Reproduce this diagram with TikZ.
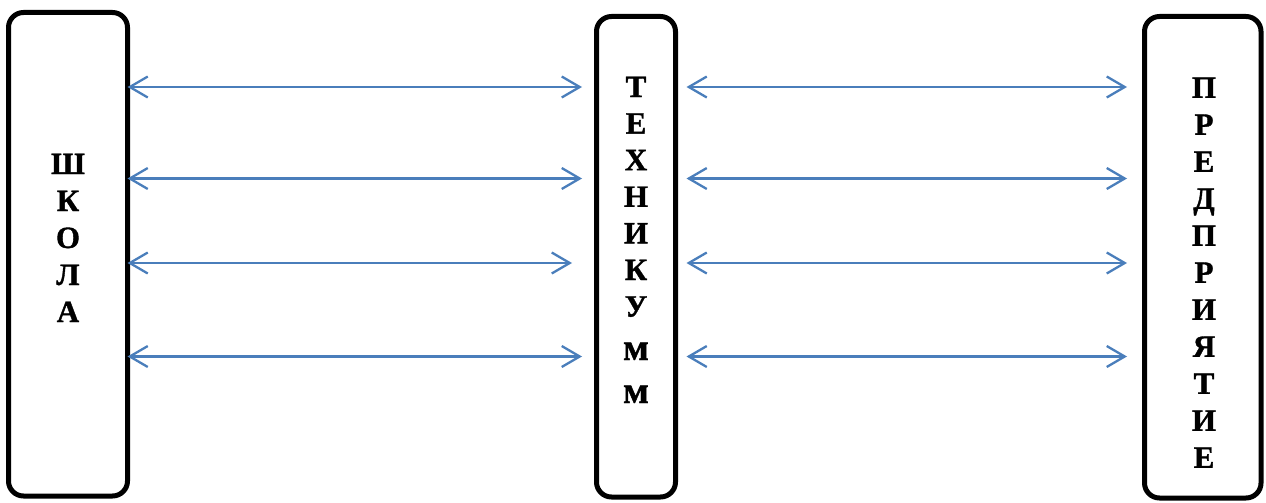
\documentclass[tikz,border=0pt]{standalone}
\usepackage{fontspec}
\setmainfont{Liberation Serif}[BoldFont={Liberation Serif Bold},BoldFeatures={FakeBold=1.2}]
\usetikzlibrary{arrows.meta,calc}
\definecolor{arrblue}{HTML}{4A7EBB}
\begin{document}
\begin{tikzpicture}[x=1pt,y=-1pt,
  box/.style={draw=black, line width=5pt, rounded corners=15pt, rectangle, inner sep=0pt, outer sep=0pt},
  col/.style={font=\fontsize{31}{37}\selectfont\bfseries, align=center, inner sep=0pt, anchor=north},
  lowm/.style={font=\fontsize{38}{38}\selectfont\bfseries, inner sep=0pt, anchor=base},
  arr/.style={draw=arrblue, line width=2.3pt, {Straight Barb[length=18pt,width=21pt]}-{Straight Barb[length=18pt,width=21pt]}}]
\useasboundingbox (0,0) rectangle (1266,503);
% boxes
\node[box, minimum width=119pt, minimum height=483.5pt] (school) at (68,254.25) {};
\node[box, minimum width=79pt, minimum height=480.5pt] (tech) at (636,256.75) {};
\node[box, minimum width=116.5pt, minimum height=481.5pt] (ent) at (1202.75,257.25) {};
% texts
\node[col] (schooltxt) at (68,153.5) {Ш\\К\\О\\Л\\А};
\node[col, font=\fontsize{31}{36.6}\selectfont\bfseries] (techtxt) at (636,76.5) {Т\\Е\\Х\\Н\\И\\К\\У};
\node[lowm] (m1) at (636,360) {м};
\node[lowm] (m2) at (636,403) {м};
\node[col] (enttxt) at (1204,77.25) {П\\Р\\Е\\Д\\П\\Р\\И\\Я\\Т\\И\\Е};
% rows
\coordinate (r1) at (0,87);
\coordinate (r2) at (0,178.5);
\coordinate (r3) at (0,263);
\coordinate (r4) at (0,356.5);
% arrows left
\draw[arr] (school.east |- r1) -- ($(tech.west |- r1)+(-14.5,0)$);
\draw[arr] (school.east |- r2) -- ($(tech.west |- r2)+(-14.5,0)$);
\draw[arr] (school.east |- r3) -- ($(tech.west |- r3)+(-24.5,0)$);
\draw[arr] (school.east |- r4) -- ($(tech.west |- r4)+(-14.5,0)$);
% arrows right
\draw[arr] ($(tech.east |- r1)+(11,0)$) -- ($(ent.west |- r1)+(-17.5,0)$);
\draw[arr] ($(tech.east |- r2)+(11,0)$) -- ($(ent.west |- r2)+(-17.5,0)$);
\draw[arr] ($(tech.east |- r3)+(11,0)$) -- ($(ent.west |- r3)+(-17.5,0)$);
\draw[arr] ($(tech.east |- r4)+(11,0)$) -- ($(ent.west |- r4)+(-17.5,0)$);
\end{tikzpicture}
\end{document}
